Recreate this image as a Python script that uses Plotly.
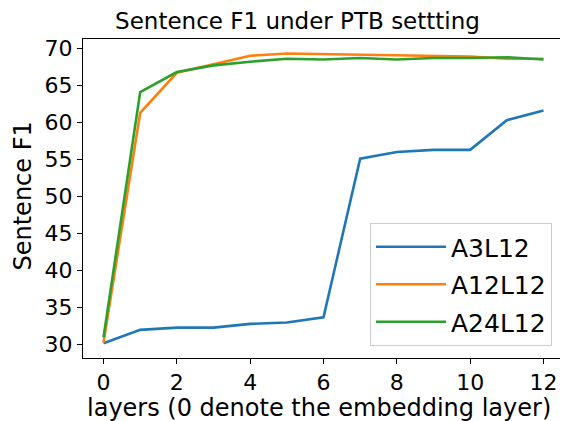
import plotly.graph_objects as go

layers = list(range(13))
a3l12 = [30.2, 32.0, 32.3, 32.3, 32.8, 33.0, 33.7, 55.1, 56.0, 56.3, 56.3, 60.3, 61.6]
a12l12 = [30.3, 61.3, 66.7, 67.9, 69.0, 69.3, 69.2, 69.1, 69.1, 68.9, 68.9, 68.6, 68.6]
a24l12 = [31.0, 64.1, 66.8, 67.7, 68.2, 68.6, 68.5, 68.7, 68.5, 68.7, 68.7, 68.8, 68.5]
x_ticks = [0, 2, 4, 6, 8, 10, 12]
y_ticks = [30, 35, 40, 45, 50, 55, 60, 65, 70]

series = [("A3L12", a3l12, "#1f77b4"), ("A12L12", a12l12, "#ff7f0e"), ("A24L12", a24l12, "#2ca02c")]

fig = go.Figure()
for name, vals, col in series:
    fig.add_trace(go.Scatter(x=layers, y=vals, mode="lines", name=name, legendgroup=name,
                             line=dict(color=col, width=2.6)))

font = "DejaVu Sans, Arial, sans-serif"
# page has an 8px body margin: figure coordinates = page coordinates - 8
OFF = 8
W, H = 568 - OFF, 421 - OFF
L, R, T, B = 83 - OFF, 564 - OFF, 39 - OFF, 358 - OFF
axis_common = dict(showline=True, linecolor="black", linewidth=1, mirror=True,
                   ticks="outside", ticklen=5, tickcolor="black", showgrid=False, zeroline=False,
                   tickfont=dict(size=22, color="black", family=font))
fig.update_layout(
    width=W, height=H,
    margin=dict(l=L, r=W - R, t=T, b=H - B),
    paper_bgcolor="white", plot_bgcolor="white",
    title=dict(text="Sentence F1 under PTB settting", x=(297.5 - OFF) / W, xanchor="center",
               y=1 - (21 - OFF) / H, yanchor="middle", font=dict(size=23, color="black", family=font)),
    xaxis=dict(range=[-0.56, 12.56], tickvals=x_ticks, **axis_common),
    yaxis=dict(range=[28.2, 71.26], tickvals=y_ticks, **axis_common),
    legend=dict(x=(552 - OFF - L) / (R - L), y=(B - (346 - OFF)) / (B - T),
                xanchor="right", yanchor="bottom",
                bordercolor="#cccccc", borderwidth=1, bgcolor="rgba(255,255,255,0.8)",
                font=dict(size=25, color="black", family=font),
                traceorder="grouped", tracegroupgap=2, itemwidth=70),
    showlegend=True,
    annotations=[
        dict(text="layers (0 denote the embedding layer)", xref="paper", yref="paper",
             x=(318.5 - OFF - L) / (R - L), y=(B - (407.5 - OFF)) / (B - T),
             xanchor="center", yanchor="middle",
             showarrow=False, font=dict(size=24, color="black", family=font)),
        dict(text="Sentence F1", xref="paper", yref="paper", textangle=-90,
             x=(22 - OFF - L) / (R - L), y=(B - (196.5 - OFF)) / (B - T),
             xanchor="center", yanchor="middle",
             showarrow=False, font=dict(size=24, color="black", family=font)),
    ],
)
fig.write_html("out.html")
